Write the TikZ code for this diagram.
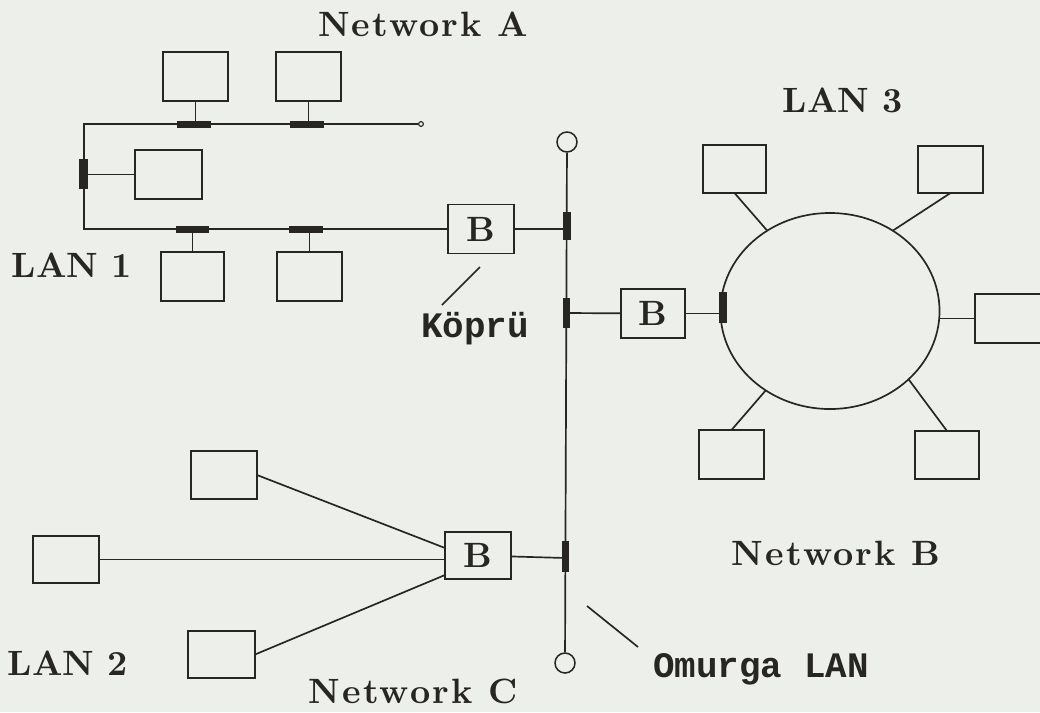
\documentclass[tikz,border=0pt]{standalone}
\usepackage{fontspec}
\newfontfamily\kfont{Liberation Mono}
\newfontfamily\lblfont{lmroman10-bold}[Extension=.otf, LetterSpace=6]
\newfontfamily\lanfont{lmroman10-bold}[Extension=.otf]
\usetikzlibrary{shapes.geometric,calc}
\definecolor{paper}{RGB}{237,239,235}
\definecolor{ink}{RGB}{40,38,35}
\tikzset{
  wire/.style={draw=ink, line width=1.2pt},
  pcbox/.style 2 args={draw=ink, line width=1.2pt, rectangle, inner sep=0pt, outer sep=0pt,
    minimum width=#1*0.025cm, minimum height=#2*0.025cm},
  bridgebox/.style={pcbox={66}{49}, font={\lanfont\fontsize{25}{28}\selectfont}, text=ink},
  taph/.style={fill=ink, draw=none, rectangle, inner sep=0pt, outer sep=0pt,
    minimum width=#1*0.025cm, minimum height=0.175cm},
  tapv/.style={fill=ink, draw=none, rectangle, inner sep=0pt, outer sep=0pt,
    minimum width=0.19cm, minimum height=#1*0.025cm},
  termcirc/.style={draw=ink, line width=1.1pt, circle, inner sep=0pt, minimum size=0.5cm, fill=paper},
  enddot/.style={draw=ink, line width=0.8pt, circle, inner sep=0pt, minimum size=0.12cm, fill=paper},
  netlbl/.style={font={\lblfont\fontsize{25}{28}\selectfont}, anchor=base, inner sep=0pt, text=ink},
  lanlbl/.style={font={\lanfont\fontsize{25}{28}\selectfont}, anchor=base, inner sep=0pt, text=ink},
  klbl/.style={font={\kfont\bfseries\fontsize{25.5}{28}\selectfont}, anchor=base, inner sep=0pt, text=ink},
}
\begin{document}
\begin{tikzpicture}[x=0.025cm, y=-0.025cm]
\useasboundingbox (0,0) rectangle (1040,712);
\fill[paper] (0,0) rectangle (1040,712);
\begin{scope}
\clip (0,0) rectangle (1040,712);

% ---------- labels ----------
\node[netlbl] (netA) at (423,36) {Network A};
\node[netlbl] (netB) at (836,565) {Network B};
\node[netlbl] (netC) at (413,703) {Network C};
\node[lanlbl] (lan1) at (72,277) {LAN 1};
\node[lanlbl] (lan2) at (68,675) {LAN 2};
\node[lanlbl] (lan3) at (843,112) {LAN 3};
\node[klbl] (kopru) at (475,337) {Köprü};
\node[klbl] (omurga) at (761,677) {Omurga LAN};

% ---------- LAN 1 ----------
\node[pcbox={65}{49}] (a1) at (195.5,76.5) {};
\node[pcbox={65}{49}] (a2) at (308.5,76.5) {};
\node[pcbox={67}{49}] (a3) at (168.5,174.5) {};
\node[pcbox={63}{49}] (a4) at (192.5,276.5) {};
\node[pcbox={65}{49}] (a5) at (309.5,276.5) {};
\node[bridgebox] (b1) at (481,229) {B};

\coordinate (tl) at (84,124);
\coordinate (bl) at (84,229);
\node[enddot] (busend) at (421,124) {};
\coordinate (t1) at (195.5,124);
\coordinate (t2) at (308.5,124);
\coordinate (t3) at (84,174.5);
\coordinate (t4) at (192.5,229);
\coordinate (t5) at (309.5,229);

\draw[wire] (busend) -- (tl) -- (bl) -- (b1);
\draw[wire] (a1) -- (t1);
\draw[wire] (a2) -- (t2);
\draw[wire] (a3) -- (t3);
\draw[wire] (a4) -- (t4);
\draw[wire] (a5) -- (t5);
\node[taph={34}] (tap1) at (194,124) {};
\node[taph={34}] (tap2) at (307,124) {};
\node[tapv={30}, minimum width=0.22cm] (tap3) at (83.5,174) {};
\node[taph={33}] (tap4) at (192.5,229) {};
\node[taph={34}] (tap5) at (306,229) {};

% ---------- backbone ----------
\node[termcirc] (btop) at (567,142) {};
\node[termcirc] (bbot) at (565,663) {};
\draw[wire] (btop) -- (bbot);
\coordinate (k1) at (566.8,229);
\coordinate (k2) at (566.5,313);
\coordinate (k3) at (565.4,558);
\draw[wire] (b1) -- (k1);
\node[tapv={28}] (ktap1) at (566.8,226) {};
\node[tapv={30}] (ktap2) at (566.5,313) {};

% Köprü and Omurga leaders
\coordinate (kl1) at (480,267);
\coordinate (kl2) at (442,305);
\draw[wire] (kl1) -- (kl2);
\coordinate (ol1) at (587,606);
\coordinate (ol2) at (638,647);
\draw[wire] (ol1) -- (ol2);

% ---------- LAN 3 (ring) ----------
\node[bridgebox, minimum width=1.6cm] (b2) at (653,313.5) {B};
\node[draw=ink, line width=1.2pt, ellipse, inner sep=0pt, outer sep=0pt,
      minimum width=5.475cm, minimum height=4.9cm] (ring) at (830,311) {};
\coordinate (rt) at (723,313.5);
\draw[wire] (k2) -- (b2);
\draw[wire] (b2) -- (rt);
\node[tapv={31}] (rtap) at (723,307.5) {};

\node[pcbox={63}{48}] (r1) at (734.5,169) {};
\node[pcbox={65}{47}] (r2) at (950.5,169.5) {};
\node[pcbox={70}{49}] (r3) at (1010,318.5) {};
\node[pcbox={65}{49}] (r4) at (731.5,454.5) {};
\node[pcbox={64}{48}] (r5) at (947,455) {};
\draw[wire] (r1.south) -- (ring.128);
\draw[wire] (r2.south) -- (ring.52);
\draw[wire] (r3.west) -- (r3.west -| ring.east);
\draw[wire] (r4.north) -- (ring.231);
\draw[wire] (r5.north) -- (ring.-41);

% ---------- LAN 2 (star) ----------
\node[bridgebox, minimum height=1.175cm] (b3) at (478,555.5) {B};
\node[pcbox={66}{48}] (c1) at (224,475) {};
\node[pcbox={66}{47}] (c2) at (66,559.5) {};
\node[pcbox={67}{47}] (c3) at (221.5,654.5) {};
\coordinate (b3a) at ($(b3.west)+(0,-7.5)$);
\coordinate (b3c) at ($(b3.west)+(0,19.5)$);
\draw[wire] (c1.east) -- (b3a);
\draw[wire] (c2.east) -- (c2.east -| b3.west);
\draw[wire] (c3.east) -- (b3c);
\draw[wire] (b3) -- (k3);
\node[tapv={31}] (ktap3) at (565.4,556.5) {};
\end{scope}
\end{tikzpicture}
\end{document}
